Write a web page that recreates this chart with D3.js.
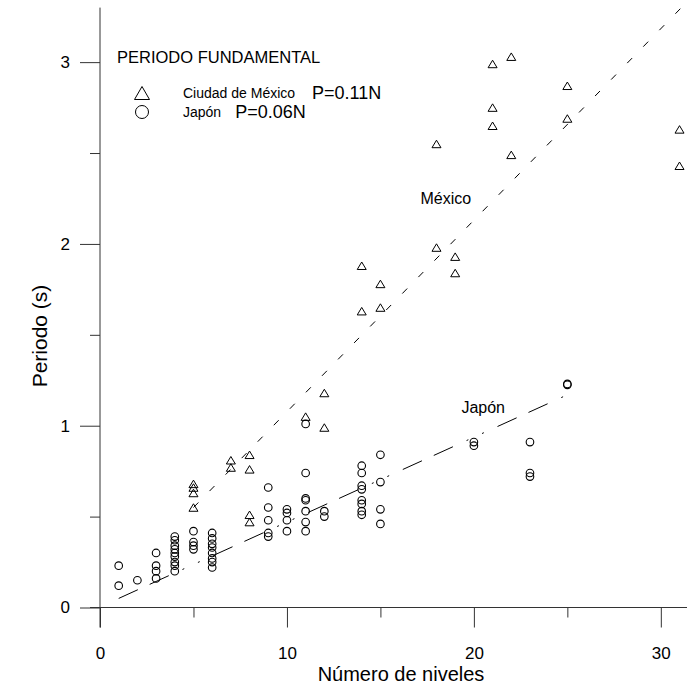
<!DOCTYPE html>
<html>
<head>
<meta charset="utf-8">
<script src="https://cdn.jsdelivr.net/npm/d3@7"></script>
<style>
  html, body { margin: 0; padding: 0; background: #fff; }
  svg { display: block; font-family: "Liberation Sans", Arial, sans-serif; }
</style>
</head>
<body>
<svg id="chart" width="687" height="684"></svg>
<script>
// ---- data ----
const mexicoPoints = [
  [5,0.68],[5,0.66],[5,0.63],[5,0.55],
  [7,0.81],[7,0.77],
  [8,0.84],[8,0.76],[8,0.51],[8,0.47],
  [11,1.05],
  [12,1.18],[12,0.99],
  [14,1.88],[14,1.63],
  [15,1.78],[15,1.65],
  [18,2.55],[18,1.98],
  [19,1.93],[19,1.84],
  [21,2.99],[21,2.75],[21,2.65],
  [22,3.03],[22,2.49],
  [25,2.87],[25,2.69],
  [31,2.63],[31,2.43]
];
const japonPoints = [
  [1,0.23],[1,0.12],
  [2,0.15],
  [3,0.30],[3,0.23],[3,0.20],[3,0.16],
  [4,0.39],[4,0.37],[4,0.34],[4,0.32],[4,0.30],[4,0.28],[4,0.25],[4,0.23],[4,0.20],
  [5,0.42],[5,0.36],[5,0.34],[5,0.32],
  [6,0.41],[6,0.38],[6,0.35],[6,0.33],[6,0.30],[6,0.27],[6,0.25],[6,0.22],
  [9,0.66],[9,0.55],[9,0.48],[9,0.41],[9,0.39],
  [10,0.54],[10,0.52],[10,0.48],[10,0.42],
  [11,1.01],[11,0.74],[11,0.60],[11,0.59],[11,0.53],[11,0.47],[11,0.42],
  [12,0.53],[12,0.50],
  [14,0.78],[14,0.74],[14,0.67],[14,0.65],[14,0.59],[14,0.57],[14,0.53],[14,0.51],
  [15,0.84],[15,0.69],[15,0.54],[15,0.46],
  [20,0.91],[20,0.89],
  [23,0.91],[23,0.74],[23,0.72],
  [25,1.23],[25,1.225]
];
const mexicoFit = [[5,0.55],[31.1,3.30]];
const japonFit = [[1,0.05],[25,1.17]];
const xMajor = [0,10,20,30];
const xMinor = [5,15,25];
const yMajor = [0,1,2,3];
const yMinor = [0.5,1.5,2.5];
const xDomain = [0, 31.4];
const yDomain = [0, 3.3];
const legendTitle = "PERIODO FUNDAMENTAL";
const legendItems = [
  {name: "Ciudad de México", formula: "P=0.11N", shape: "triangle"},
  {name: "Japón", formula: "P=0.06N", shape: "circle"}
];
const lineLabels = [
  {text: "México", at: [18.5, 2.22]},
  {text: "Japón", at: [20.5, 1.07]}
];

// ---- drawing ----
const svg = d3.select("#chart");
const x = d3.scaleLinear().domain(xDomain).range([100, 687]);
const y = d3.scaleLinear().domain(yDomain).range([607.5, 7.6]);
const ink = "#000";
const axisInk = "#333";

function triPath(w, h) {
  return `M0,${-h/2}L${w/2},${h/2}L${-w/2},${h/2}Z`;
}

// Axes
const xAxisG = svg.append("g").attr("transform", `translate(0,${y(0)})`);
xAxisG.call(d3.axisBottom(x).tickValues(xMajor).tickSize(20).tickPadding(19).tickFormat(d3.format("d")));
const xMinorG = svg.append("g").attr("transform", `translate(0,${y(0)})`);
xMinorG.call(d3.axisBottom(x).tickValues(xMinor).tickSize(10).tickFormat(""));
xMinorG.select(".domain").remove();

const yAxisG = svg.append("g").attr("transform", `translate(${x(0)},0)`);
yAxisG.call(d3.axisLeft(y).tickValues(yMajor).tickSize(20).tickPadding(10).tickFormat(d3.format("d")));
const yMinorG = svg.append("g").attr("transform", `translate(${x(0)},0)`);
yMinorG.call(d3.axisLeft(y).tickValues(yMinor).tickSize(10).tickFormat(""));
yMinorG.select(".domain").remove();

svg.selectAll(".domain").remove();
svg.append("line").attr("x1", x(0) - 10).attr("x2", 687).attr("y1", y(0)).attr("y2", y(0))
  .attr("stroke", axisInk).attr("stroke-width", 1);
svg.append("line").attr("x1", x(0)).attr("x2", x(0)).attr("y1", y(yDomain[1])).attr("y2", y(0) + 20)
  .attr("stroke", axisInk).attr("stroke-width", 1);

svg.selectAll(".tick line").attr("stroke", axisInk).attr("stroke-width", 1);
svg.selectAll(".tick text").attr("font-size", 17).attr("fill", ink)
  .attr("font-family", "'Liberation Sans', Arial, sans-serif");

// Axis titles
svg.append("text").attr("x", 401).attr("y", 681).attr("text-anchor", "middle")
  .attr("font-size", 20).attr("fill", ink).text("Número de niveles");
svg.append("text").attr("transform", `translate(47,336) rotate(-90)`).attr("text-anchor", "middle")
  .attr("font-size", 21).attr("fill", ink).text("Periodo (s)");

// Fit lines
const line = d3.line().x(d => x(d[0])).y(d => y(d[1]));
svg.append("path").datum(mexicoFit).attr("d", line).attr("fill", "none")
  .attr("stroke", ink).attr("stroke-width", 1).attr("stroke-dasharray", "7,16");
svg.append("path").datum(japonFit).attr("d", line).attr("fill", "none")
  .attr("stroke", ink).attr("stroke-width", 1).attr("stroke-dasharray", "21,13,21,15,2,15,2,15");

// Points
svg.append("g").selectAll("path").data(mexicoPoints).join("path")
  .attr("transform", d => `translate(${x(d[0])},${y(d[1])})`)
  .attr("d", triPath(9, 7.5)).attr("fill", "none").attr("stroke", ink).attr("stroke-width", 1);
svg.append("g").selectAll("circle").data(japonPoints).join("circle")
  .attr("cx", d => x(d[0])).attr("cy", d => y(d[1])).attr("r", 3.8)
  .attr("fill", "none").attr("stroke", ink).attr("stroke-width", 1.1);

// Line labels
svg.append("g").selectAll("text").data(lineLabels).join("text")
  .attr("x", d => x(d.at[0])).attr("y", d => y(d.at[1]))
  .attr("text-anchor", "middle").attr("font-size", 16).attr("fill", ink)
  .text(d => d.text);

// Legend
const lg = svg.append("g");
lg.append("text").attr("x", 117).attr("y", 63).attr("font-size", 16.5).attr("fill", ink).text(legendTitle);
const rows = lg.selectAll("g.row").data(legendItems).join("g").attr("class", "row")
  .attr("transform", (d, i) => `translate(0,${i === 0 ? 93 : 112})`);
rows.each(function(d) {
  const g = d3.select(this);
  if (d.shape === "triangle") {
    g.append("path").attr("transform", "translate(142,0)").attr("d", triPath(15, 13))
      .attr("fill", "none").attr("stroke", ink).attr("stroke-width", 1);
  } else {
    g.append("circle").attr("cx", 142).attr("cy", 0).attr("r", 6.5)
      .attr("fill", "none").attr("stroke", ink).attr("stroke-width", 1);
  }
  const t = g.append("text").attr("x", 183).attr("y", 4.5).attr("font-size", 14).attr("fill", ink).text(d.name);
  const w = t.node().getComputedTextLength();
  g.append("text").attr("x", 183 + w + (d.shape === "triangle" ? 17 : 14)).attr("y", 6)
    .attr("font-size", 18).attr("fill", ink).text(d.formula);
});
</script>
</body>
</html>
